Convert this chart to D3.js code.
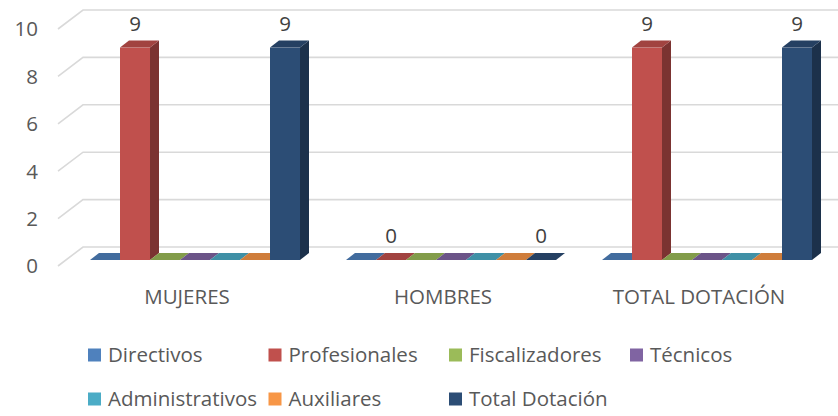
<!DOCTYPE html>
<html>
<head>
<meta charset="utf-8">
<script src="https://cdn.jsdelivr.net/npm/d3@7"></script>
<style>
  html, body { margin: 0; padding: 0; background: #ffffff; }
  svg { display: block; font-family: "Open Sans", sans-serif; }
</style>
</head>
<body>
<svg id="chart" width="838" height="416"></svg>
<script>
const categories = ["MUJERES", "HOMBRES", "TOTAL DOTACIÓN"];
const seriesNames = ["Directivos", "Profesionales", "Fiscalizadores", "Técnicos", "Administrativos", "Auxiliares", "Total Dotación"];
const seriesColors = ["#4f81bd", "#c0504d", "#9bbb59", "#8064a2", "#4bacc6", "#f79646", "#2c4d75"];
// values[series][category]
const directivos      = [0, 0, 0];
const profesionales   = [9, 0, 9];
const fiscalizadores  = [0, 0, 0];
const tecnicos        = [0, 0, 0];
const administrativos = [0, 0, 0];
const auxiliares      = [0, 0, 0];
const totalDotacion   = [9, 0, 9];
const seriesValues = [directivos, profesionales, fiscalizadores, tecnicos, administrativos, auxiliares, totalDotacion];
// which series show data labels
const labeledSeries = ["Profesionales", "Total Dotación"];
const yTicks = [0, 2, 4, 6, 8, 10];

const svg = d3.select("#chart");
const textColor = "#595959";
const gridColor = "#d9d9d9";

// 3D projection parameters
const wallDX = 25, wallDY = -19;   // floor depth (front edge -> back wall)
const barDX = 9, barDY = -7;       // bar depth

const y = d3.scaleLinear().domain([0, 10]).range([260, 24]);      // bar front plane
const yWall = d3.scaleLinear().domain([0, 10]).range([247, 10]);  // back wall plane
const yFront = d3.scaleLinear().domain([0, 10]).range([266, 29]); // front edge of floor/wall

const x0 = d3.scaleBand().domain(categories).range([59, 827]).padding(0);
const x1 = d3.scaleBand().domain(seriesNames).range([0, 210]).padding(0);
const groupOffset = 31;

// gridlines on back wall + left side wall
const grid = svg.append("g");
yTicks.forEach(t => {
  const yb = yWall(t);
  grid.append("path")
    .attr("d", `M58,${yFront(t)} L83,${yb} L838,${yb}`)
    .attr("fill", "none")
    .attr("stroke", gridColor)
    .attr("stroke-width", 1.6);
});

// y tick labels
svg.append("g").selectAll("text").data(yTicks).join("text")
  .attr("x", 38)
  .attr("y", d => yFront(d))
  .attr("dy", "0.36em")
  .attr("text-anchor", "end")
  .attr("fill", textColor)
  .attr("font-size", 20.5)
  .text(d => d);

// bars
const bars = svg.append("g");
const w = x1.bandwidth();
categories.forEach((cat, ci) => {
  seriesNames.forEach((s, si) => {
    const v = seriesValues[si][ci];
    const c = d3.color(seriesColors[si]);
    const front = c.formatHex();
    const top = c.darker(0.5).formatHex();
    const side = c.darker(1.25).formatHex();
    const bx = x0(cat) + groupOffset + x1(s);
    const yt = y(v), yb = y(0);
    const g = bars.append("g");
    if (v > 0) {
      g.append("rect").attr("x", bx).attr("y", yt).attr("width", w).attr("height", yb - yt).attr("fill", front);
      g.append("path")
        .attr("d", `M${bx + w},${yt} L${bx + w + barDX},${yt + barDY} L${bx + w + barDX},${yb + barDY} L${bx + w},${yb} Z`)
        .attr("fill", side);
    }
    g.append("path")
      .attr("d", `M${bx},${yt} L${bx + barDX},${yt + barDY} L${bx + w + barDX},${yt + barDY} L${bx + w},${yt} Z`)
      .attr("fill", top);
  });
});

// data labels
const labels = svg.append("g");
categories.forEach((cat, ci) => {
  seriesNames.forEach((s, si) => {
    if (!labeledSeries.includes(s)) return;
    const v = seriesValues[si][ci];
    labels.append("text")
      .attr("x", x0(cat) + groupOffset + x1(s) + w / 2)
      .attr("y", y(v) - 17)
      .attr("text-anchor", "middle")
      .attr("fill", "#404040")
      .attr("font-size", 20.5)
      .text(v);
  });
});

// category labels
svg.append("g").selectAll("text").data(categories).join("text")
  .attr("x", d => x0(d) + x0.bandwidth() / 2)
  .attr("y", 304)
  .attr("text-anchor", "middle")
  .attr("fill", textColor)
  .attr("font-size", 20.5)
  .text(d => d);

// legend
const legendCols = [88, 268.5, 449, 630];
const legendRows = [355, 399];
const legend = svg.append("g");
seriesNames.forEach((s, i) => {
  const col = i < 4 ? i : i - 4;
  const row = i < 4 ? 0 : 1;
  const lx = legendCols[col], ly = legendRows[row];
  legend.append("rect").attr("x", lx).attr("y", ly - 6.5).attr("width", 13).attr("height", 13).attr("fill", seriesColors[i]);
  legend.append("text")
    .attr("x", lx + 20)
    .attr("y", ly)
    .attr("dy", "0.36em")
    .attr("fill", textColor)
    .attr("font-size", 20.5)
    .text(s);
});
</script>
</body>
</html>
